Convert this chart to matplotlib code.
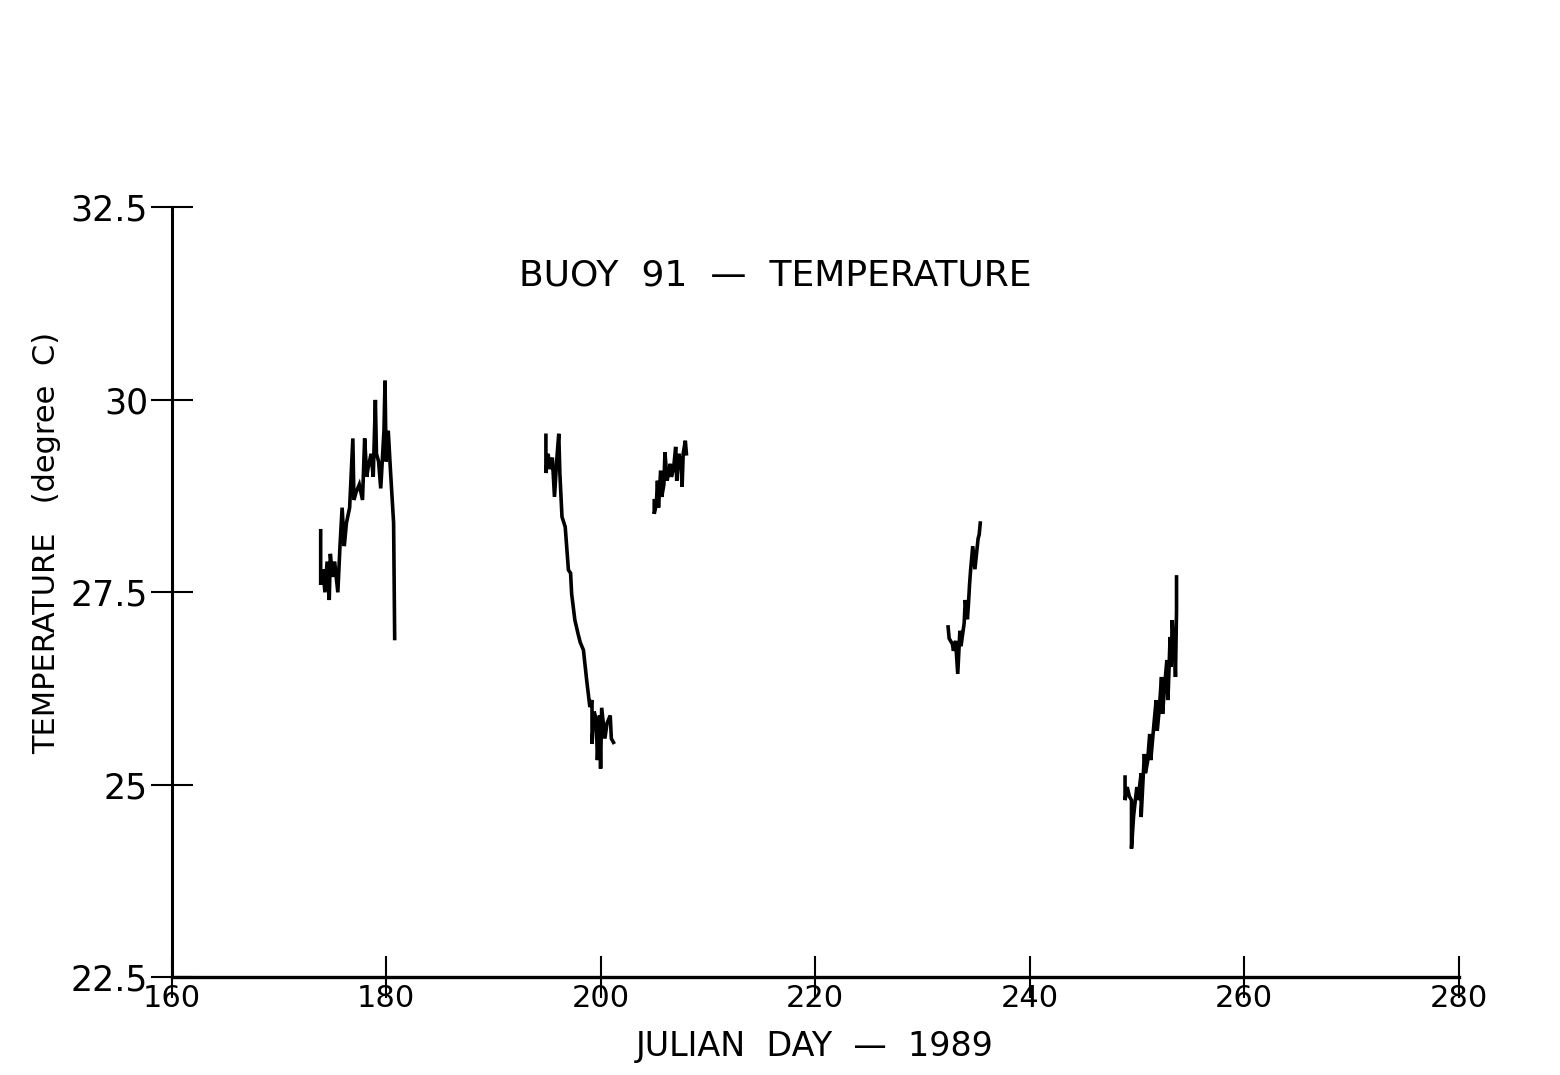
import matplotlib
matplotlib.use("Agg")
import matplotlib.pyplot as plt

# ---- data ----
day_seg1 = [173.9, 173.9, 174.1, 174.3, 174.5, 174.7, 174.8, 175.0, 175.2, 175.5,
            175.7, 175.9, 176.1, 176.3, 176.6, 176.9, 177.0, 177.2, 177.5, 177.8,
            178.0, 178.2, 178.3, 178.6, 178.8, 179.0, 179.1, 179.3, 179.5, 179.8,
            179.9, 180.0, 180.2, 180.4, 180.7, 180.8]
temp_seg1 = [28.3, 27.6, 27.8, 27.5, 27.9, 27.4, 28.0, 27.7, 27.9, 27.5,
             28.1, 28.6, 28.1, 28.4, 28.6, 29.5, 28.7, 28.8, 28.9, 28.7,
             29.5, 29.0, 29.1, 29.3, 29.0, 30.0, 29.3, 29.2, 28.85, 29.6,
             30.25, 29.2, 29.6, 29.1, 28.4, 26.9]

day_seg2 = [194.9, 194.9, 195.1, 195.3, 195.5, 195.7, 195.9, 196.1, 196.2, 196.4,
            196.7, 197.0, 197.2, 197.3, 197.6, 197.9, 198.1, 198.4, 198.7, 199.0,
            199.2, 199.2, 199.4, 199.6, 199.7, 199.9, 200.0, 200.1, 200.4, 200.6,
            200.9, 201.0, 201.2]
temp_seg2 = [29.54, 29.05, 29.3, 29.1, 29.25, 28.74, 29.2, 29.56, 29.05, 28.48,
             28.35, 27.79, 27.75, 27.48, 27.14, 26.96, 26.85, 26.75, 26.36, 26.01,
             26.1, 25.53, 25.95, 25.84, 25.32, 25.9, 25.21, 26.0, 25.6, 25.8,
             25.9, 25.6, 25.55]

day_seg3 = [205.0, 205.0, 205.2, 205.3, 205.4, 205.6, 205.7, 205.9, 206.0, 206.2,
            206.5, 206.6, 206.8, 207.0, 207.1, 207.3, 207.5, 207.6, 207.7, 207.9,
            208.0]
temp_seg3 = [28.69, 28.52, 28.65, 28.95, 28.6, 29.08, 28.74, 28.9, 29.32, 28.95,
             29.17, 29.0, 29.1, 29.39, 28.95, 29.3, 29.17, 28.87, 29.3, 29.47,
             29.3]

day_seg4 = [232.4, 232.5, 232.8, 232.9, 233.1, 233.3, 233.5, 233.6, 233.9, 234.0,
            234.2, 234.3, 234.4, 234.5, 234.7, 234.9, 235.2, 235.3, 235.4]
temp_seg4 = [27.05, 26.9, 26.83, 26.74, 26.87, 26.44, 27.0, 26.8, 27.1, 27.4,
             27.15, 27.35, 27.6, 27.79, 28.1, 27.8, 28.2, 28.25, 28.4]

day_seg5 = [248.9, 248.9, 249.1, 249.3, 249.5, 249.5, 249.7, 250.0, 250.1, 250.4,
            250.4, 250.7, 250.8, 251.0, 251.2, 251.3, 251.6, 251.8, 251.9, 252.1,
            252.3, 252.4, 252.6, 252.8, 252.9, 253.1, 253.2, 253.3, 253.4, 253.5,
            253.6, 253.7, 253.7]
temp_seg5 = [25.1, 24.8, 24.97, 24.85, 24.8, 24.17, 24.6, 24.97, 24.8, 25.15,
             24.58, 25.4, 25.15, 25.3, 25.66, 25.32, 25.8, 26.1, 25.7, 26.0,
             26.4, 25.92, 26.3, 26.62, 26.1, 26.92, 26.53, 27.14, 26.83, 26.92,
             26.4, 27.27, 27.7]

x_ticks = [160, 180, 200, 220, 240, 260, 280]
x_tick_labels = ["160", "180", "200", "220", "240", "260", "280"]
y_ticks = [22.5, 25, 27.5, 30, 32.5]
y_tick_labels = ["22.5", "25", "27.5", "30", "32.5"]

title_text = "BUOY  91  \u2014  TEMPERATURE"
xlabel_text = "JULIAN  DAY  \u2014  1989"
ylabel_text = "TEMPERATURE   (degree  C)"

# ---- figure ----
fig = plt.figure(figsize=(15.6, 10.75), dpi=100)
ax = fig.add_axes([0.110, 0.091, 0.825, 0.716])

segments = [(day_seg1, temp_seg1), (day_seg2, temp_seg2), (day_seg3, temp_seg3),
            (day_seg4, temp_seg4), (day_seg5, temp_seg5)]
for d, t in segments:
    ax.plot(d, t, color="black", lw=2.6, solid_joinstyle="miter")

ax.set_xlim(160, 280)
ax.set_ylim(22.5, 32.5)
for s in ["top", "right"]:
    ax.spines[s].set_visible(False)
ax.spines["left"].set_linewidth(2.2)
ax.spines["bottom"].set_linewidth(2.4)

ax.set_xticks(x_ticks)
ax.set_xticklabels(x_tick_labels, family="DejaVu Sans", fontsize=22)
ax.set_yticks(y_ticks)
ax.set_yticklabels(y_tick_labels, family="DejaVu Sans", fontsize=25)
ax.tick_params(axis="x", direction="inout", length=30, width=1.5, pad=-10)
ax.tick_params(axis="y", direction="inout", length=30, width=1.5, pad=2)

ax.text(0.469, 0.912, title_text, transform=ax.transAxes, ha="center", va="center",
        fontsize=26, family="DejaVu Sans")
ax.set_xlabel(xlabel_text, family="DejaVu Sans", fontsize=24, labelpad=12)
fig.text(0.030, 0.495, ylabel_text, rotation=90, ha="center", va="center",
         fontsize=22, family="DejaVu Sans")

fig.savefig("out.png", dpi=100, facecolor="white")
